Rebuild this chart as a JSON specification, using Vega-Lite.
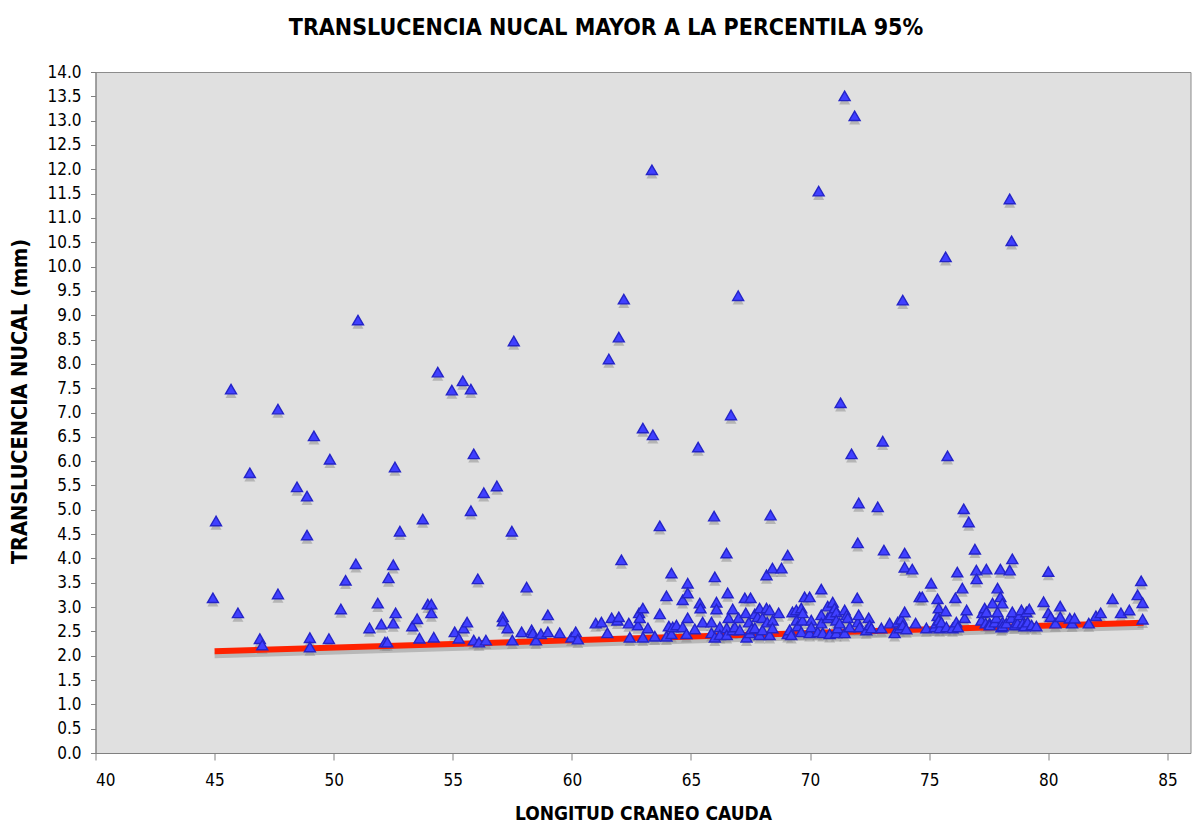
{
"$schema": "https://vega.github.io/schema/vega-lite/v6.json",
"width": 1095, "height": 681,
"autosize": {"type": "none"},
"padding": {"left": 95.5, "top": 72, "right": 1, "bottom": 77},
"background": "white",
"config": {"view": {"fill": "#e0e0e0", "stroke": "#8c8c8c", "strokeWidth": 1}, "font": "DejaVu Sans Condensed"},
"title": {"text": "TRANSLUCENCIA NUCAL MAYOR A LA PERCENTILA 95%", "font": "DejaVu Sans Condensed", "fontSize": 23, "fontWeight": "bold", "color": "black", "anchor": "middle", "dx": -37, "dy": 32, "offset": 37, "baseline": "alphabetic"},
"datasets": {
"fit": [{"x": 45, "y": 2.09}, {"x": 84, "y": 2.68}],
"pts": [
{"x":45.06,"y":4.77},{"x":44.93,"y":3.19},{"x":45.69,"y":7.48},{"x":45.98,"y":2.88},{"x":46.48,"y":5.76},{"x":46.9,"y":2.35},{"x":47.0,"y":2.22},{"x":47.66,"y":7.07},{"x":47.66,"y":3.27},{"x":48.46,"y":5.47},{"x":48.88,"y":5.28},{"x":48.88,"y":4.48},{"x":49.0,"y":2.37},{"x":49.0,"y":2.18},{"x":49.17,"y":6.52},{"x":49.8,"y":2.35},{"x":49.84,"y":6.04},{"x":50.3,"y":2.96},{"x":50.5,"y":3.55},{"x":50.93,"y":3.89},{"x":51.02,"y":8.9},{"x":51.5,"y":2.57},{"x":51.85,"y":3.08},{"x":52.0,"y":2.65},{"x":52.3,"y":3.6},{"x":52.15,"y":2.28},{"x":52.25,"y":2.28},{"x":52.5,"y":3.87},{"x":52.6,"y":2.88},{"x":52.5,"y":2.67},{"x":52.57,"y":5.88},{"x":52.78,"y":4.56},{"x":53.3,"y":2.61},{"x":53.5,"y":2.76},{"x":53.6,"y":2.36},{"x":53.74,"y":4.81},{"x":53.95,"y":3.06},{"x":54.1,"y":3.06},{"x":54.1,"y":2.88},{"x":54.2,"y":2.38},{"x":54.37,"y":7.83},{"x":54.96,"y":7.46},{"x":55.08,"y":2.49},{"x":55.25,"y":2.36},{"x":55.45,"y":2.57},{"x":55.6,"y":2.69},{"x":55.42,"y":7.65},{"x":55.76,"y":7.48},{"x":55.76,"y":4.98},{"x":55.88,"y":6.15},{"x":55.88,"y":2.32},{"x":56.05,"y":3.58},{"x":56.1,"y":2.28},{"x":56.39,"y":2.32},{"x":56.3,"y":5.35},{"x":56.85,"y":5.49},{"x":57.1,"y":2.8},{"x":57.1,"y":2.71},{"x":57.3,"y":2.57},{"x":57.5,"y":2.32},{"x":57.48,"y":4.56},{"x":57.56,"y":8.47},{"x":57.89,"y":2.49},{"x":58.1,"y":3.41},{"x":58.31,"y":2.53},{"x":58.36,"y":2.47},{"x":58.49,"y":2.32},{"x":58.7,"y":2.45},{"x":58.99,"y":2.84},{"x":58.99,"y":2.49},{"x":59.49,"y":2.47},{"x":59.98,"y":2.38},
{"x":61.55,"y":8.1},{"x":61.97,"y":8.55},{"x":62.18,"y":9.33},{"x":62.98,"y":6.68},{"x":63.4,"y":6.54},{"x":63.36,"y":11.99},{"x":63.69,"y":4.67},{"x":65.3,"y":6.29},{"x":65.97,"y":4.87},{"x":66.68,"y":6.95},{"x":66.98,"y":9.4},{"x":68.34,"y":4.89},{"x":70.36,"y":11.55},{"x":71.28,"y":7.2},{"x":71.45,"y":13.51},{"x":71.74,"y":6.15},{"x":71.87,"y":13.1},{"x":72.04,"y":5.14},{"x":72.84,"y":5.06},{"x":73.05,"y":6.41},{"x":73.89,"y":9.31},{"x":75.69,"y":10.2},{"x":75.77,"y":6.11},{"x":76.45,"y":5.02},{"x":76.66,"y":4.75},{"x":78.38,"y":11.39},{"x":78.46,"y":10.53},
{"x":60.16,"y":2.49},{"x":60.25,"y":2.34},{"x":61.0,"y":2.67},{"x":61.24,"y":2.69},{"x":61.49,"y":2.47},{"x":61.67,"y":2.78},{"x":61.91,"y":2.73},{"x":61.97,"y":2.8},{"x":62.08,"y":3.97},{"x":62.39,"y":2.67},{"x":62.43,"y":2.38},{"x":62.77,"y":2.63},{"x":62.82,"y":2.88},{"x":62.85,"y":2.78},{"x":62.98,"y":2.98},{"x":62.98,"y":2.38},{"x":63.19,"y":2.57},{"x":63.48,"y":2.4},{"x":63.69,"y":2.86},{"x":63.97,"y":3.23},{"x":63.97,"y":2.4},{"x":64.07,"y":2.61},{"x":64.18,"y":3.7},{"x":64.18,"y":2.45},{"x":64.23,"y":2.59},{"x":64.39,"y":2.63},{"x":64.65,"y":3.15},{"x":64.65,"y":2.59},{"x":64.81,"y":2.45},{"x":64.86,"y":3.49},{"x":64.86,"y":3.29},{"x":64.86,"y":2.78},{"x":65.16,"y":2.55},{"x":65.37,"y":3.08},{"x":65.4,"y":2.98},{"x":65.49,"y":2.69},{"x":65.86,"y":2.69},{"x":65.86,"y":2.47},{"x":66.0,"y":3.62},{"x":66.0,"y":2.38},{"x":66.07,"y":3.1},{"x":66.07,"y":2.96},{"x":66.21,"y":2.59},{"x":66.21,"y":2.43},{"x":66.49,"y":4.11},{"x":66.5,"y":2.57},{"x":66.5,"y":2.43},{"x":66.54,"y":3.29},{"x":66.58,"y":2.78},{"x":66.75,"y":2.96},{"x":66.75,"y":2.53},{"x":66.84,"y":2.59},{"x":67.0,"y":2.78},{"x":67.05,"y":2.53},{"x":67.26,"y":3.19},{"x":67.3,"y":2.88},{"x":67.33,"y":2.38},{"x":67.43,"y":2.69},{"x":67.47,"y":2.47},{"x":67.5,"y":3.19},{"x":67.54,"y":2.55},{"x":67.68,"y":2.86},{"x":67.68,"y":2.57},{"x":67.8,"y":2.8},{"x":67.88,"y":2.98},{"x":67.88,"y":2.43},{"x":68.0,"y":2.78},{"x":68.0,"y":2.53},{"x":68.17,"y":2.98},{"x":68.17,"y":3.66},{"x":68.2,"y":2.69},
{"x":68.3,"y":2.94},{"x":68.3,"y":2.43},{"x":68.42,"y":3.8},{"x":68.43,"y":2.73},{"x":68.42,"y":2.57},{"x":68.68,"y":2.88},{"x":68.8,"y":3.8},{"x":69.06,"y":4.07},{"x":69.06,"y":2.45},{"x":69.14,"y":2.53},{"x":69.21,"y":2.43},{"x":69.26,"y":2.9},{"x":69.42,"y":2.94},{"x":69.43,"y":2.73},{"x":69.48,"y":2.61},{"x":69.63,"y":2.98},{"x":69.63,"y":2.49},{"x":69.68,"y":2.73},{"x":69.69,"y":2.88},{"x":69.77,"y":3.21},{"x":69.98,"y":3.21},{"x":69.98,"y":2.47},{"x":70.05,"y":2.73},{"x":70.05,"y":2.59},{"x":70.32,"y":2.49},{"x":70.47,"y":3.37},{"x":70.47,"y":2.84},{"x":70.47,"y":2.67},{"x":70.53,"y":2.47},{"x":70.74,"y":3.02},{"x":70.74,"y":2.78},{"x":70.82,"y":2.45},{"x":70.87,"y":2.84},{"x":70.95,"y":3.1},{"x":71.03,"y":2.98},{"x":71.1,"y":2.9},{"x":71.1,"y":2.73},{"x":71.1,"y":2.47},{"x":71.16,"y":2.57},{"x":71.24,"y":2.67},{"x":71.45,"y":2.94},{"x":71.45,"y":2.47},{"x":71.54,"y":2.84},{"x":71.58,"y":2.78},{"x":71.66,"y":2.59},{"x":71.98,"y":3.19},{"x":72.0,"y":4.32},{"x":72.0,"y":2.69},{"x":72.04,"y":2.84},{"x":72.08,"y":2.59},{"x":72.36,"y":2.53},{"x":72.46,"y":2.78},{"x":72.5,"y":2.63},{"x":72.57,"y":2.57},{"x":72.99,"y":2.57},{"x":73.1,"y":4.17},{"x":73.34,"y":2.67},{"x":73.55,"y":2.47},{"x":73.68,"y":2.69},
{"x":73.76,"y":2.57},{"x":73.83,"y":2.75},{"x":73.89,"y":2.63},{"x":73.97,"y":4.11},{"x":73.97,"y":3.82},{"x":73.97,"y":2.9},{"x":74.04,"y":2.55},{"x":74.29,"y":3.78},{"x":74.43,"y":2.67},{"x":74.6,"y":3.21},{"x":74.71,"y":3.21},{"x":74.88,"y":2.57},{"x":75.08,"y":3.49},{"x":75.23,"y":2.59},{"x":75.3,"y":2.67},{"x":75.35,"y":3.17},{"x":75.35,"y":2.82},{"x":75.4,"y":2.98},{"x":75.4,"y":2.73},{"x":75.44,"y":2.57},{"x":75.51,"y":2.69},{"x":75.69,"y":2.92},{"x":75.72,"y":2.59},{"x":75.98,"y":2.57},{"x":76.1,"y":3.19},{"x":76.14,"y":2.69},{"x":76.18,"y":3.72},{"x":76.2,"y":2.59},{"x":76.39,"y":3.39},{"x":76.49,"y":2.78},{"x":76.57,"y":2.94},{"x":76.92,"y":4.19},{"x":76.98,"y":3.76},{"x":76.99,"y":3.58},{"x":77.19,"y":2.73},{"x":77.24,"y":2.88},{"x":77.33,"y":2.98},{"x":77.37,"y":2.67},{"x":77.4,"y":3.78},{"x":77.4,"y":2.9},{"x":77.54,"y":2.67},{"x":77.54,"y":2.63},{"x":77.66,"y":3.08},{"x":77.75,"y":2.69},{"x":77.82,"y":2.78},{"x":77.87,"y":3.39},{"x":77.87,"y":2.9},{"x":77.99,"y":3.78},{"x":77.99,"y":3.21},{"x":78.03,"y":2.59},{"x":78.07,"y":3.08},{"x":78.08,"y":2.69},{"x":78.08,"y":2.61},{"x":78.24,"y":2.67},{"x":78.38,"y":3.76},{"x":78.45,"y":2.78},{"x":78.49,"y":3.99},{"x":78.49,"y":2.9},{"x":78.59,"y":2.63},{"x":78.66,"y":2.69},{"x":78.71,"y":2.67},{"x":78.8,"y":2.84},{"x":78.87,"y":2.94},{"x":78.92,"y":2.67},{"x":79.0,"y":2.61},{"x":79.08,"y":2.9},{"x":79.13,"y":2.69},
{"x":79.2,"y":2.96},{"x":79.3,"y":2.63},{"x":79.5,"y":2.61},{"x":79.8,"y":3.11},{"x":80.0,"y":3.73},{"x":80.0,"y":2.88},{"x":80.1,"y":2.8},{"x":80.3,"y":2.67},{"x":80.5,"y":3.02},{"x":80.5,"y":2.8},{"x":80.9,"y":2.77},{"x":81.0,"y":2.67},{"x":81.1,"y":2.77},{"x":81.7,"y":2.67},{"x":82.0,"y":2.82},{"x":82.2,"y":2.88},{"x":82.7,"y":3.17},{"x":83.05,"y":2.88},{"x":83.4,"y":2.94},{"x":83.75,"y":3.25},{"x":83.9,"y":3.54},{"x":83.96,"y":3.09},{"x":83.96,"y":2.75}
]
},
"encoding": {
"x": {"field": "x", "type": "quantitative",
 "scale": {"domain": [40, 85.97], "nice": false, "zero": false},
 "axis": {"values": [40,45,50,55,60,65,70,75,80,85], "title": "LONGITUD CRANEO CAUDA", "grid": false,
  "tickSize": 7, "tickColor": "#808080", "domainColor": "#808080", "labelColor": "black",
  "labelFont": "DejaVu Sans Condensed", "labelFontSize": 17, "labelPadding": 12,
  "titleFont": "DejaVu Sans Condensed", "titleFontSize": 19, "titleFontWeight": "bold", "titleColor": "black", "titlePadding": 16}},
"y": {"field": "y", "type": "quantitative",
 "scale": {"domain": [0, 14], "nice": false, "zero": true},
 "axis": {"values": [0,0.5,1,1.5,2,2.5,3,3.5,4,4.5,5,5.5,6,6.5,7,7.5,8,8.5,9,9.5,10,10.5,11,11.5,12,12.5,13,13.5,14], "format": ".1f", "title": "TRANSLUCENCIA NUCAL (mm)", "grid": false,
  "tickSize": 5, "tickColor": "#808080", "domainColor": "#808080", "labelColor": "black",
  "labelFont": "DejaVu Sans Condensed", "labelFontSize": 17, "labelPadding": 9.5,
  "titleFont": "DejaVu Sans Condensed", "titleFontSize": 21.5, "titleFontWeight": "bold", "titleColor": "black", "titlePadding": 15, "titleY": 329}}
},
"layer": [
{"data": {"name": "fit"}, "mark": {"type": "line", "color": "#9c9c9c", "strokeWidth": 6, "opacity": 0.6, "yOffset": 4}},
{"data": {"name": "pts"}, "mark": {"type": "point", "shape": "triangle-up", "size": 120, "filled": true, "color": "#8a8a8a", "opacity": 0.5, "yOffset": 4}},
{"data": {"name": "fit"}, "mark": {"type": "line", "color": "#ff2200", "strokeWidth": 6}},
{"data": {"name": "pts"}, "mark": {"type": "point", "shape": "triangle-up", "size": 120, "filled": true, "fill": "#4040ff", "stroke": "#2424c8", "strokeWidth": 1.4, "opacity": 1}}
]
}
